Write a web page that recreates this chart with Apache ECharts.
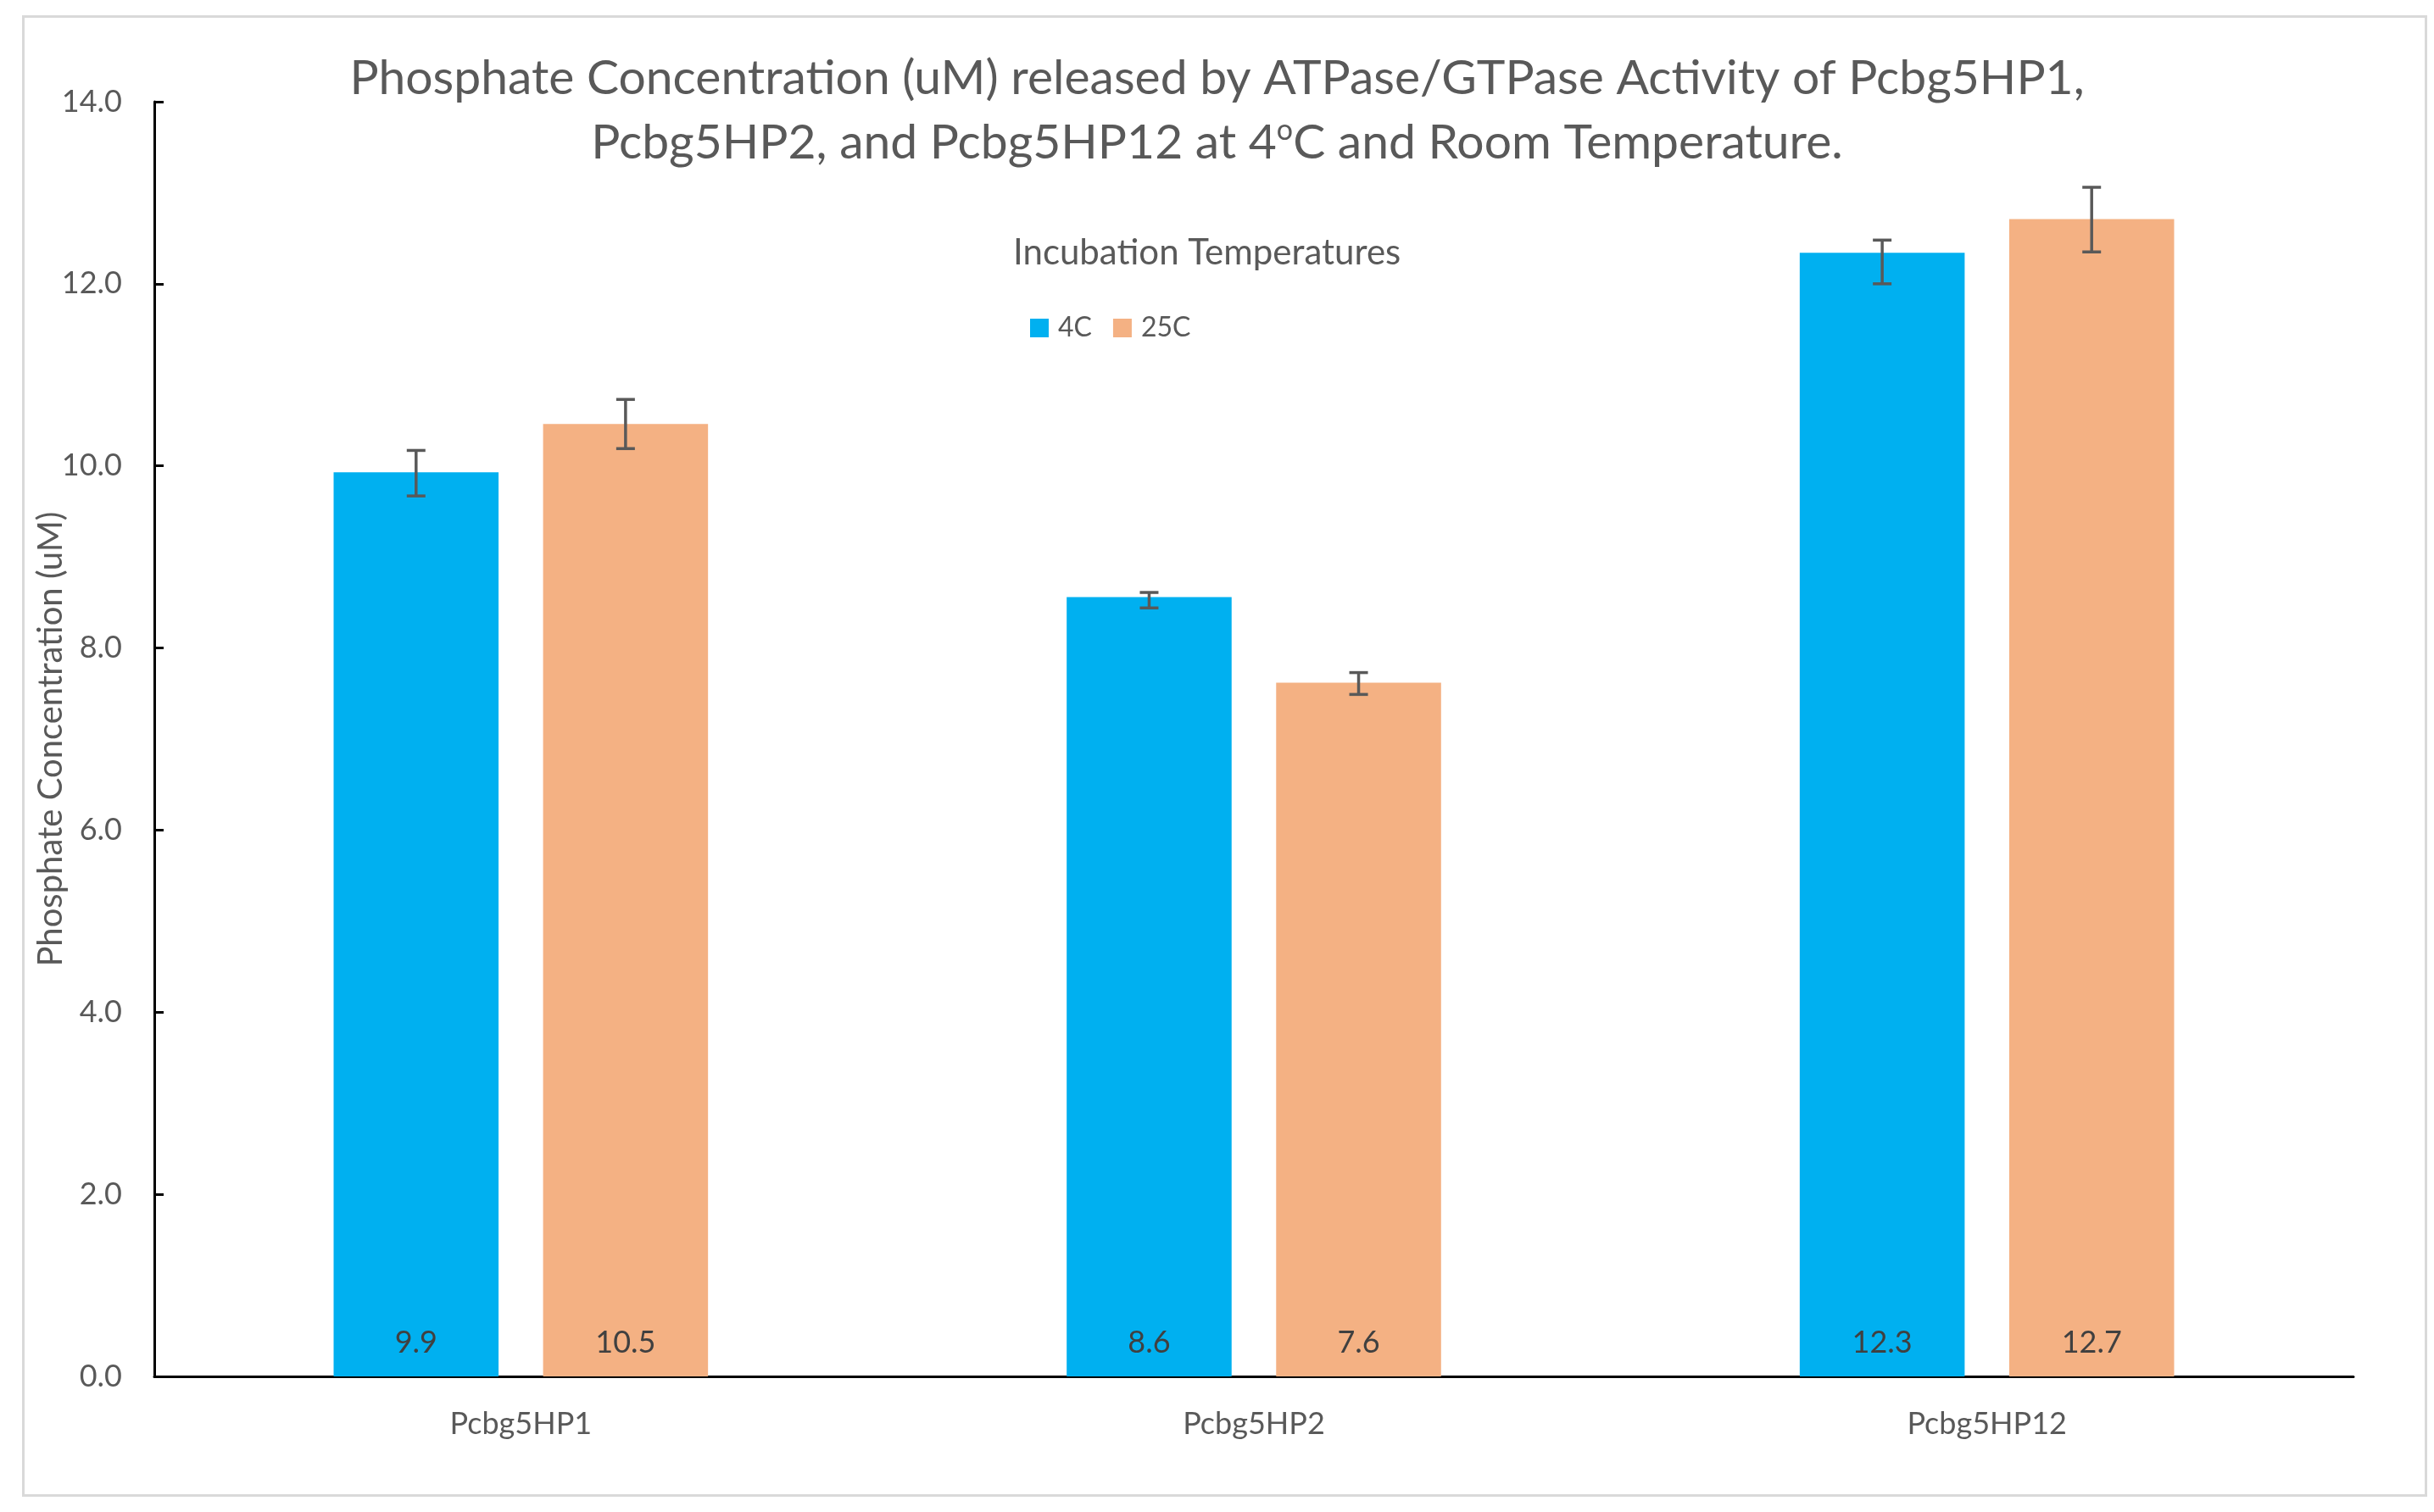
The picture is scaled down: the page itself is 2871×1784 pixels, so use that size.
<!DOCTYPE html>
<html>
<head>
<meta charset="utf-8">
<style>
html,body{margin:0;padding:0;background:#fff;}
#chart{width:2871px;height:1784px;}
</style>
<script src="https://cdn.jsdelivr.net/npm/echarts@6/dist/echarts.min.js"></script>
</head>
<body>
<div id="chart"></div>
<script>
const categories = ['Pcbg5HP1', 'Pcbg5HP2', 'Pcbg5HP12'];
const seriesNames = ['4C', '25C'];
const values4C = [9.93, 8.56, 12.34];
const values25C = [10.46, 7.62, 12.71];
const errLow4C = [9.67, 8.44, 12.00];
const errHigh4C = [10.17, 8.61, 12.48];
const errLow25C = [10.19, 7.49, 12.35];
const errHigh25C = [10.73, 7.73, 13.06];
const yTicks = [0, 2, 4, 6, 8, 10, 12, 14];

const FONT = 'Lato';
const TXT = '#595959';
const BAR_W = 0.225;
const BAR_GAP = 0.27;

const chart = echarts.init(document.getElementById('chart'), null, {renderer: 'canvas'});

function errSeries(lows, highs, sign) {
  return {
    type: 'custom',
    z: 10,
    silent: true,
    data: lows.map((v, i) => [i, v, highs[i]]),
    renderItem: function (params, api) {
      const band = api.size([1, 0])[0];
      const off = sign * band * BAR_W * (1 + BAR_GAP) / 2;
      const lo = api.coord([api.value(0), api.value(1)]);
      const hi = api.coord([api.value(0), api.value(2)]);
      const x = lo[0] + off;
      const cap = 11;
      const style = {stroke: '#595959', lineWidth: 3.5};
      return {
        type: 'group',
        children: [
          {type: 'line', shape: {x1: x, y1: lo[1], x2: x, y2: hi[1]}, style: style},
          {type: 'line', shape: {x1: x - cap, y1: lo[1], x2: x + cap, y2: lo[1]}, style: style},
          {type: 'line', shape: {x1: x - cap, y1: hi[1], x2: x + cap, y2: hi[1]}, style: style}
        ]
      };
    }
  };
}

const labelCfg = {
  show: true,
  position: 'insideBottom',
  distance: 22,
  color: '#404040',
  fontFamily: FONT,
  fontSize: 36,
  formatter: p => p.value.toFixed(1)
};

chart.setOption({
  animation: false,
  backgroundColor: '#ffffff',
  title: [
    {
      text: 'Phosphate Concentration (uM) released by ATPase/GTPase Activity of Pcbg5HP1,\nPcbg5HP2, and Pcbg5HP12 at 4{sup|o}C and Room Temperature.',
      left: 'center',
      top: 50,
      textStyle: {
        fontFamily: FONT, fontSize: 57, fontWeight: 'normal', color: TXT, lineHeight: 76,
        rich: {
          sup: {fontFamily: FONT, fontSize: 34, color: TXT, lineHeight: 76, verticalAlign: 'top', padding: [6, 0, 0, 0]}
        }
      }
    },
    {
      text: 'Incubation Temperatures',
      left: 1190,
      top: 272,
      textStyle: {fontFamily: FONT, fontSize: 42, fontWeight: 'normal', color: TXT}
    }
  ],
  legend: {
    left: 1210,
    top: 366,
    icon: 'rect',
    itemWidth: 22,
    itemHeight: 22,
    itemGap: 25,
    data: seriesNames,
    textStyle: {fontFamily: FONT, fontSize: 32, color: TXT, padding: [0, 0, 0, 6]}
  },
  graphic: [{
    type: 'rect',
    left: 25, top: 17,
    shape: {width: 2834, height: 1745},
    style: {fill: 'none', stroke: '#D9D9D9', lineWidth: 3},
    silent: true, z: -1
  }],
  grid: {left: 182, right: 95, top: 120, bottom: 160, containLabel: false},
  xAxis: {
    type: 'category',
    data: categories,
    axisLine: {lineStyle: {color: '#000', width: 3}},
    axisTick: {show: false},
    axisLabel: {fontFamily: FONT, fontSize: 36, color: TXT, margin: 38},
    splitLine: {show: false}
  },
  yAxis: {
    type: 'value',
    min: yTicks[0],
    max: yTicks[yTicks.length - 1],
    interval: yTicks[1] - yTicks[0],
    name: 'Phosphate Concentration (uM)',
    nameLocation: 'middle',
    nameMoveOverlap: false,
    nameGap: 102,
    nameTextStyle: {fontFamily: FONT, fontSize: 40, color: TXT},
    axisLine: {show: true, lineStyle: {color: '#000', width: 3}},
    axisTick: {show: true, inside: true, length: 11, lineStyle: {color: '#000', width: 3}},
    axisLabel: {fontFamily: FONT, fontSize: 36, color: TXT, margin: 38, formatter: v => v.toFixed(1)},
    splitLine: {show: false}
  },
  series: [
    {
      name: seriesNames[0], type: 'bar', data: values4C,
      barWidth: (BAR_W * 100) + '%', barGap: (BAR_GAP * 100) + '%',
      itemStyle: {color: '#00B0F0'}, label: labelCfg
    },
    {
      name: seriesNames[1], type: 'bar', data: values25C,
      barWidth: (BAR_W * 100) + '%', barGap: (BAR_GAP * 100) + '%',
      itemStyle: {color: '#F4B183'}, label: labelCfg
    },
    errSeries(errLow4C, errHigh4C, -1),
    errSeries(errLow25C, errHigh25C, 1)
  ]
});
</script>
</body>
</html>
